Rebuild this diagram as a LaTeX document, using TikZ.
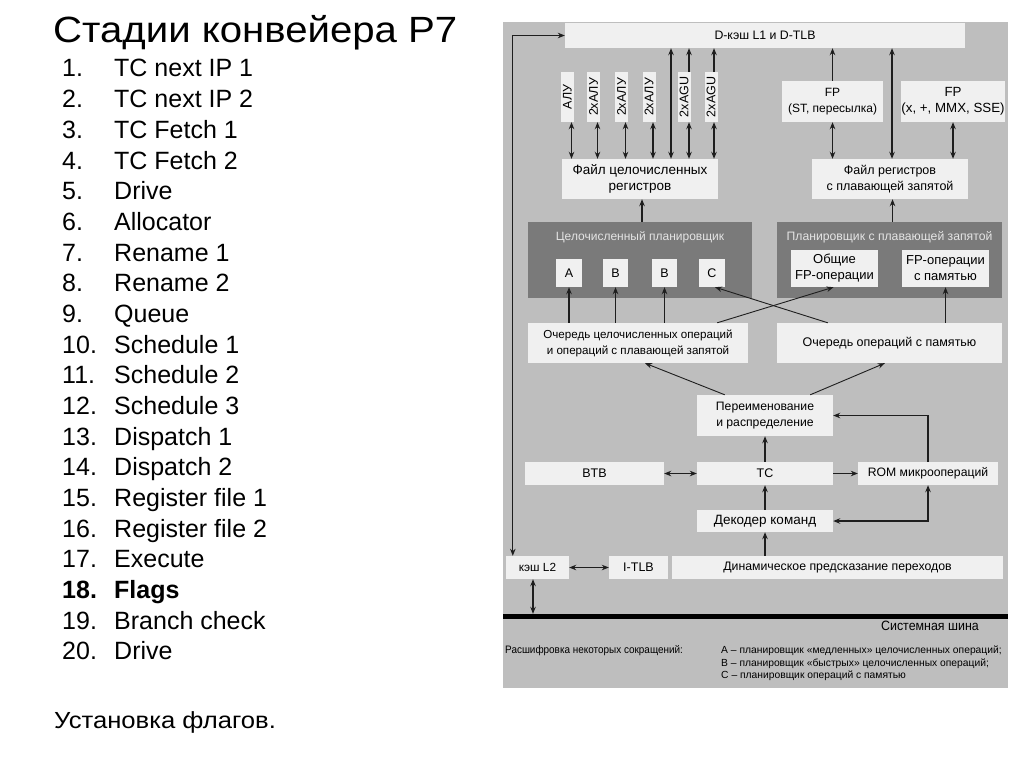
\documentclass[tikz,border=0pt]{standalone}
\usepackage{fontspec}
\setmainfont{Liberation Sans}
\newfontfamily\dg{Liberation Sans}
\usetikzlibrary{arrows.meta,calc}
\definecolor{panelc}{HTML}{BEBEBE}
\definecolor{boxc}{HTML}{F0F0F0}
\definecolor{darkc}{HTML}{7A7A7A}
\definecolor{dtext}{HTML}{E4E4E4}
\definecolor{linec}{HTML}{1E1E1E}
\newcommand\fz[1]{\fontsize{#1}{16.5}\selectfont}
\begin{document}
\begin{tikzpicture}[x=1pt,y=-1pt,
  lbox/.style={fill=boxc, draw=none, inner sep=0pt, align=center, text=black,
    font=\dg\fz{12.5}},
  dbox/.style={fill=darkc, draw=none, inner sep=0pt},
  dtitle/.style={inner sep=0pt, text=dtext, font=\dg\fz{12}},
  con/.style={line width=1.1pt, draw=linec, -{Stealth[length=7pt,width=5.5pt]}},
  dcon/.style={line width=1.1pt, draw=linec, {Stealth[length=7pt,width=5.5pt]}-{Stealth[length=7pt,width=5.5pt]}},
  slide/.style={inner sep=0pt, anchor=base west, font=\fontsize{25}{25}\selectfont},
]
\useasboundingbox (0,0) rectangle (1024,768);
\fill[white] (0,0) rectangle (1024,768);

% ---------- slide text ----------
\node[inner sep=0pt, anchor=base west, font=\fontsize{36.5}{36.5}\selectfont] (title) at (53,43) {\scalebox{1.1}[1]{Стадии конвейера P7}};
\foreach \n/\t in {1/TC next IP 1, 2/TC next IP 2, 3/TC Fetch 1, 4/TC Fetch 2, 5/Drive,
  6/Allocator, 7/Rename 1, 8/Rename 2, 9/Queue, 10/Schedule 1, 11/Schedule 2,
  12/Schedule 3, 13/Dispatch 1, 14/Dispatch 2, 15/Register file 1, 16/Register file 2,
  17/Execute, 19/Branch check, 20/Drive}{
  \node[slide] (num\n) at (62,{77+30.68*(\n-1)}) {\n.};
  \node[slide] (item\n) at (114,{77+30.68*(\n-1)}) {\t};
}
\node[slide, font=\bfseries\fontsize{25}{25}\selectfont] (num18) at (62,{77+30.68*17}) {18.};
\node[slide, font=\bfseries\fontsize{25}{25}\selectfont] (item18) at (114,{77+30.68*17}) {Flags};
\node[inner sep=0pt, anchor=base west, font=\fontsize{23.3}{23.3}\selectfont] (note) at (54,728) {\scalebox{1.1}[1]{Установка флагов.}};

% ---------- diagram panel ----------
\fill[panelc] (503,22) rectangle (1008,688);

\node[lbox, font=\dg\fz{12.3}, minimum width=400, minimum height=25] (dc) at (765,35.5) {D-кэш L1 и D-TLB};

\node[lbox, minimum width=13, minimum height=50] (e1) at (567.5,97) {\rotatebox{90}{АЛУ}};
\node[lbox, minimum width=13, minimum height=50] (e2) at (593.5,97) {\rotatebox{90}{2xАЛУ}};
\node[lbox, minimum width=13, minimum height=50] (e3) at (621.5,97) {\rotatebox{90}{2xАЛУ}};
\node[lbox, minimum width=13, minimum height=50] (e4) at (649,97) {\rotatebox{90}{2xАЛУ}};
\node[lbox, minimum width=13, minimum height=50] (e5) at (684,97) {\rotatebox{90}{2xAGU}};
\node[lbox, minimum width=13, minimum height=50] (e6) at (711,97) {\rotatebox{90}{2xAGU}};

\node[lbox, font=\dg\fz{12}, minimum width=101, minimum height=41] (fp1) at (832.5,101.5) {FP\\(ST, пересылка)};
\node[lbox, font=\dg\fz{13.3}, minimum width=104, minimum height=41] (fp2) at (953,101.5) {FP\\(x, +, MMX, SSE)};

\node[lbox, font=\dg\fz{13.5}, minimum width=156, minimum height=40] (irf) at (640,179) {Файл целочисленных\\регистров};
\node[lbox, minimum width=156, minimum height=40] (frf) at (890,179) {Файл регистров\\с плавающей запятой};

\node[dbox, minimum width=224, minimum height=76] (isch) at (640,260) {};
\node[dbox, minimum width=225, minimum height=76] (fsch) at (889.5,260) {};
\node[dtitle] (ist) at (640,237.5) {Целочисленный планировщик};
\node[dtitle, font=\dg\fz{12.2}] (fst) at (889.5,237.5) {Планировщик с плавающей запятой};

\node[lbox, minimum width=26, minimum height=28] (sA) at (569,273) {A};
\node[lbox, minimum width=25, minimum height=28] (sB1) at (615.5,273) {B};
\node[lbox, minimum width=25, minimum height=28] (sB2) at (664.5,273) {B};
\node[lbox, minimum width=26, minimum height=28] (sC) at (712,273) {C};
\node[lbox, font=\dg\fontsize{13}{16}\selectfont, minimum width=87, minimum height=37] (fg) at (834.5,268.5) {Общие\\FP-операции};
\node[lbox, font=\dg\fontsize{13}{16}\selectfont, minimum width=87, minimum height=37] (fm) at (945.5,268.5) {FP-операции\\с памятью};

\node[lbox, font=\dg\fontsize{11.6}{16}\selectfont, minimum width=220, minimum height=40] (q1) at (638,343) {Очередь целочисленных операций\\и операций с плавающей запятой};
\node[lbox, minimum width=225, minimum height=40] (q2) at (889.5,343) {Очередь операций с памятью};

\node[lbox, font=\dg\fz{12.2}, minimum width=136, minimum height=41] (ren) at (765,415.5) {Переименование\\и распределение};

\node[lbox, minimum width=139, minimum height=23] (btb) at (594.5,473.5) {BTB};
\node[lbox, minimum width=136, minimum height=23] (tc) at (765,473.5) {TC};
\node[lbox, font=\dg\fz{12.2}, minimum width=140, minimum height=23] (rom) at (928,473.5) {ROM микроопераций};

\node[lbox, font=\dg\fz{13.5}, minimum width=136, minimum height=22] (dec) at (765,521) {Декодер команд};

\node[lbox, font=\dg\fz{11.8}, minimum width=63, minimum height=23] (l2) at (537.5,567.5) {кэш L2};
\node[lbox, font=\dg\fz{12.5}, minimum width=59, minimum height=23] (itlb) at (638.5,567.5) {I-TLB};
\node[lbox, font=\dg\fz{12.3}, minimum width=331, minimum height=23] (dyn) at (837.5,567.5) {Динамическое предсказание переходов};

\node[fill=black, inner sep=0pt, minimum width=505, minimum height=5] (bus) at (755.5,616.5) {};
\node[inner sep=0pt, anchor=north east, font=\dg\fontsize{13.5}{14}\selectfont] (busl) at (979,620.5) {\scalebox{0.92}[1]{Системная шина}};

\node[inner sep=0pt, anchor=base west, font=\dg\fontsize{10.8}{11}\selectfont] (leg) at (505,653.5) {\scalebox{0.92}[1]{Расшифровка некоторых сокращений:}};
\node[inner sep=0pt, anchor=north west, align=left, font=\dg\fontsize{10.3}{12.4}\selectfont] (legr) at (721,646)
  {A – планировщик «медленных» целочисленных операций;\\
   B – планировщик «быстрых» целочисленных операций;\\
   C – планировщик операций с памятью};

% ---------- connectors ----------
\draw[dcon] ($(l2.north west)+(7,0)$) |- (dc.west);

\draw[dcon] ([xshift=4]e1.south) -- ([xshift=4]e1.south |- irf.north);
\draw[dcon] ([xshift=4]e2.south) -- ([xshift=4]e2.south |- irf.north);
\draw[dcon] ([xshift=4]e3.south) -- ([xshift=4]e3.south |- irf.north);
\draw[dcon] ([xshift=4]e4.south) -- ([xshift=4]e4.south |- irf.north);
\draw[dcon] ([xshift=5]e5.south) -- ([xshift=5]e5.south |- irf.north);
\draw[dcon] ([xshift=3]e6.south) -- ([xshift=3]e6.south |- irf.north);
\draw[con] ([xshift=5]e5.north) -- ([xshift=5]e5.north |- dc.south);
\draw[con] ([xshift=3]e6.north) -- ([xshift=3]e6.north |- dc.south);
\draw[dcon] ([xshift=31]irf.north) -- ([xshift=31]irf.north |- dc.south);

\draw[con] (fp1.north) -- (fp1.north |- dc.south);
\draw[dcon] (fp1.south) -- (fp1.south |- frf.north);
\draw[dcon] ([xshift=2]frf.north) -- ([xshift=2]frf.north |- dc.south);
\draw[dcon] (fp2.south) -- (fp2.south |- frf.north);

\draw[con] ([xshift=2]isch.north) -- ([xshift=2]irf.south);
\draw[con] ([xshift=3]fsch.north) -- ([xshift=3]fsch.north |- frf.south);

\draw[con] (q1.north -| sA) -- (sA.south);
\draw[con] (q1.north -| sB1) -- (sB1.south);
\draw[con] (q1.north -| sB2) -- (sB2.south);
\draw[con, line width=0.9pt] ([xshift=-31]q1.north east) -- ([xshift=-1]fg.south);
\draw[con, line width=0.9pt] ([xshift=51]q2.north west) -- ([xshift=3]sC.south);
\draw[con] (q2.north -| fm) -- (fm.south);

\draw[con, line width=0.9pt] ([xshift=28]ren.north west) -- ([xshift=7]q1.south);
\draw[con, line width=0.9pt] ([xshift=-23]ren.north east) -- ([xshift=108]q2.south west);

\draw[dcon] (btb.east) -- (tc.west);
\draw[con] (tc.east) -- (rom.west);
\draw[con] (rom.north) |- (ren.east);
\draw[dcon] (rom.south) |- (dec.east);
\draw[con] (tc.north) -- (ren.south);
\draw[con] (dec.north) -- (tc.south);
\draw[con] (dec.south |- dyn.north) -- (dec.south);

\draw[dcon] (l2.east) -- (itlb.west);
\draw[dcon] ([xshift=-4.5]l2.south) -- ([xshift=-4.5]l2.south |- bus.north);
\end{tikzpicture}
\end{document}
